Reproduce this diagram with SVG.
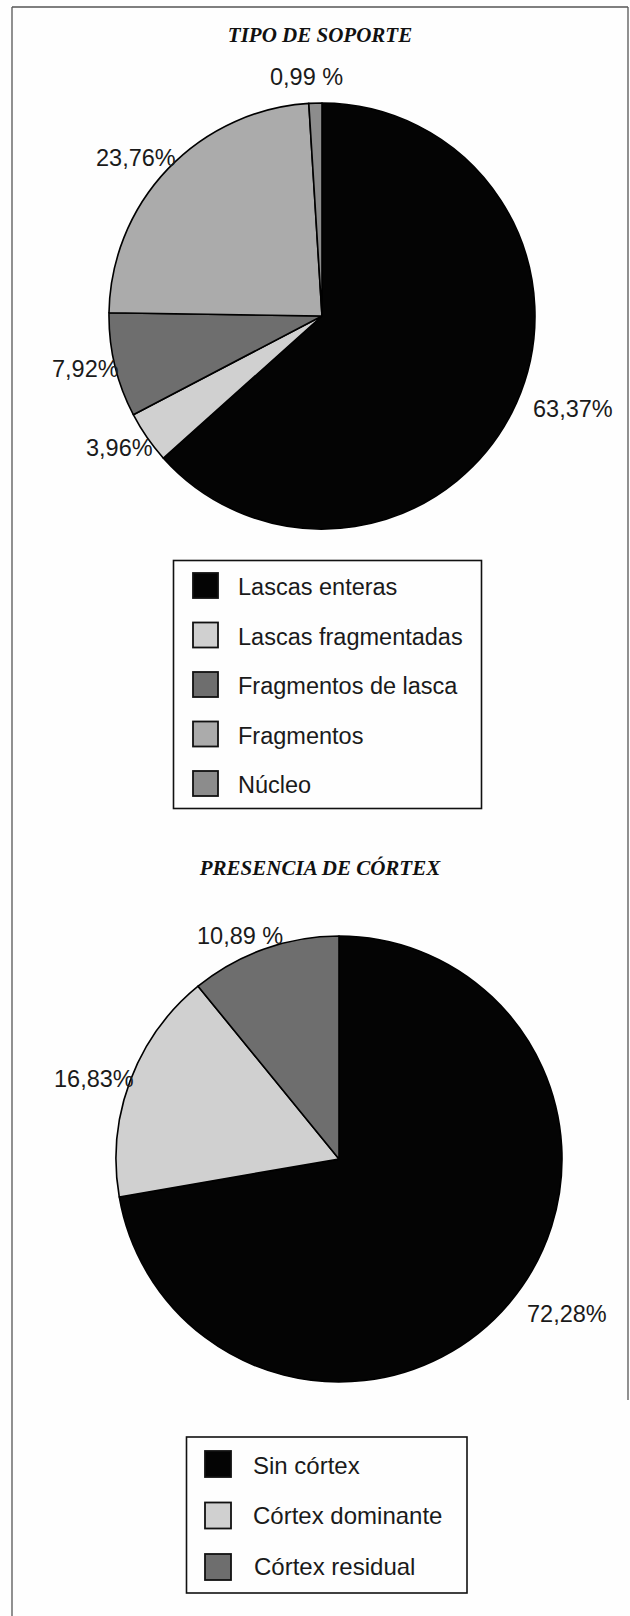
<svg xmlns="http://www.w3.org/2000/svg" width="630" height="1616" viewBox="0 0 630 1616">
<style>
.title{font-family:"Liberation Serif","Times New Roman",serif;font-weight:bold;font-style:italic;font-size:21px;fill:#111;text-anchor:middle}
.lbl{font-family:"Liberation Sans",Arial,Helvetica,sans-serif;font-size:23.5px;fill:#1a1a1a}
.leg{font-family:"Liberation Sans",Arial,Helvetica,sans-serif;font-size:23.5px;fill:#1a1a1a}
.leg2{font-family:"Liberation Sans",Arial,Helvetica,sans-serif;font-size:24px;fill:#1a1a1a}
.slice{stroke:#000;stroke-width:1.6;stroke-linejoin:round}
.sw{stroke:#111;stroke-width:1.8}
.box{fill:none;stroke:#111;stroke-width:1.6}
.frame{stroke:#555;stroke-width:1.3;fill:none}
.k{fill:#040404}
.lf{fill:#d0d0d0}
.fl{fill:#6e6e6e}
.fr{fill:#ababab}
.nu{fill:#8c8c8c}
</style>
<rect x="0" y="0" width="630" height="1616" fill="#fefefe"/>
<g id="frame">
<line class="frame" x1="12" y1="7" x2="628" y2="7"/>
<line class="frame" x1="12" y1="7" x2="12" y2="1616"/>
<line class="frame" x1="628" y1="7" x2="628" y2="1400" stroke="#888"/>
</g>
<g id="connectors"/>
<g id="chart1">
<text class="title" x="320" y="42">TIPO DE SOPORTE</text>
<g id="pie1">
<path id="s1-lascas-enteras" class="slice k" d="M322,316 L322,103 A213,213 0 1 1 163.4,458.2 Z"/>
<path id="s1-lascas-fragmentadas" class="slice lf" d="M322,316 L163.4,458.2 A213,213 0 0 1 133.3,414.7 Z"/>
<path id="s1-fragmentos-lasca" class="slice fl" d="M322,316 L133.3,414.7 A213,213 0 0 1 109,312.7 Z"/>
<path id="s1-fragmentos" class="slice fr" d="M322,316 L109,312.7 A213,213 0 0 1 308.8,103.4 Z"/>
<path id="s1-nucleo" class="slice nu" d="M322,316 L308.8,103.4 A213,213 0 0 1 322,103 Z"/>
</g>
<g id="labels1">
<text class="lbl" x="270" y="85">0,99 %</text>
<text class="lbl" x="96" y="166">23,76%</text>
<text class="lbl" x="52" y="377">7,92%</text>
<text class="lbl" x="86" y="456">3,96%</text>
<text class="lbl" x="533" y="417">63,37%</text>
</g>
<g id="legend1">
<rect class="box" x="173.5" y="560.5" width="308" height="248"/>
<rect class="sw k" x="193" y="573" width="25" height="25"/>
<text class="leg" x="238" y="595">Lascas enteras</text>
<rect class="sw lf" x="193" y="622.5" width="25" height="25"/>
<text class="leg" x="238" y="644.5">Lascas fragmentadas</text>
<rect class="sw fl" x="193" y="672" width="25" height="25"/>
<text class="leg" x="238" y="694">Fragmentos de lasca</text>
<rect class="sw fr" x="193" y="721.5" width="25" height="25"/>
<text class="leg" x="238" y="743.5">Fragmentos</text>
<rect class="sw nu" x="193" y="771" width="25" height="25"/>
<text class="leg" x="238" y="793">Núcleo</text>
</g>
</g>
<g id="chart2">
<text class="title" x="320" y="875">PRESENCIA DE CÓRTEX</text>
<g id="pie2">
<path id="s2-sin-cortex" class="slice k" d="M339,1159 L339,936 A223,223 0 1 1 119.25,1196.93 Z"/>
<path id="s2-cortex-dominante" class="slice lf" d="M339,1159 L119.25,1196.93 A223,223 0 0 1 198.05,986.19 Z"/>
<path id="s2-cortex-residual" class="slice fl" d="M339,1159 L198.05,986.19 A223,223 0 0 1 339,936 Z"/>
</g>
<g id="labels2">
<text class="lbl" x="197" y="944">10,89 %</text>
<text class="lbl" x="54" y="1087">16,83%</text>
<text class="lbl" x="527" y="1322">72,28%</text>
</g>
<g id="legend2">
<rect class="box" x="186.5" y="1437" width="280.5" height="156"/>
<rect class="sw k" x="205" y="1451" width="26" height="26"/>
<text class="leg2" x="253" y="1474">Sin córtex</text>
<rect class="sw lf" x="205" y="1502.5" width="26" height="26"/>
<text class="leg2" x="253" y="1524">Córtex dominante</text>
<rect class="sw fl" x="205" y="1554" width="26" height="26"/>
<text class="leg2" x="254" y="1575">Córtex residual</text>
</g>
</g>
</svg>
